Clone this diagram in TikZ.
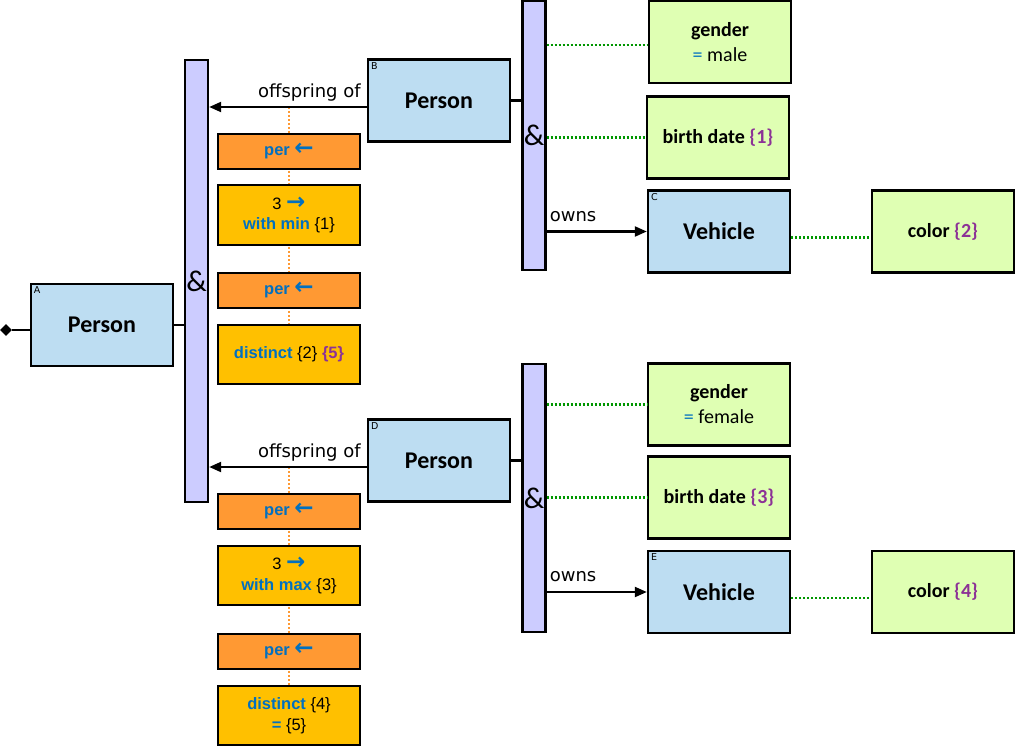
\documentclass[tikz,border=0pt]{standalone}
\usepackage{fontspec}
\setmainfont{Carlito}
\newfontfamily\relfont{DejaVu Sans}
\newfontfamily\opfont{Liberation Sans}
\usetikzlibrary{backgrounds,arrows.meta,shapes.geometric}
\definecolor{entityblue}{RGB}{189, 221, 242}
\definecolor{andlilac}{RGB}{204, 204, 255}
\definecolor{attrgreen}{RGB}{223, 255, 179}
\definecolor{perorange}{RGB}{255, 153, 51}
\definecolor{opyellow}{RGB}{255, 192, 0}
\definecolor{opblue}{RGB}{0, 112, 192}
\definecolor{refpurple}{RGB}{140, 50, 150}
\definecolor{linkgreen}{RGB}{0, 150, 0}
\tikzstyle{box} = [
  draw,
  line width=2.4pt,
  minimum width=142pt,
  inner sep=1pt,
  align=center,
]
\tikzstyle{entity} = [
  box,
  fill=entityblue,
  minimum height=82pt,
  font=\fontsize{24}{28}\selectfont\bfseries,
]
\tikzstyle{attr} = [
  box,
  fill=attrgreen,
  minimum height=82pt,
  font=\fontsize{20}{25}\selectfont,
]
\tikzstyle{perbox} = [
  box,
  fill=perorange,
  minimum height=35pt,
  text=opblue,
  font=\opfont\fontsize{16.5}{18}\selectfont\bfseries,
]
\tikzstyle{opbox} = [
  box,
  fill=opyellow,
  minimum height=60pt,
  font=\opfont\fontsize{16.5}{20.5}\selectfont,
]
\tikzstyle{andbar} = [
  draw,
  line width=2.4pt,
  fill=andlilac,
  minimum width=23pt,
  inner sep=0pt,
  font=\fontsize{30}{32}\selectfont,
]
\tikzstyle{tag} = [
  anchor=north west,
  inner sep=0pt,
  font=\relfont\fontsize{9.5}{10}\selectfont,
]
\tikzstyle{rel} = [
  line width=2.2pt,
  -{Triangle[length=12pt,width=10pt]},
]
\tikzstyle{rellabel} = [
  font=\relfont\fontsize{18}{20}\selectfont,
]
\tikzstyle{attrlink} = [
  linkgreen,
  line width=2.2pt,
  dash pattern=on 2pt off 2pt,
]
\tikzstyle{perlink} = [
  perorange,
  line width=2.2pt,
  dash pattern=on 2pt off 2pt,
]
\newcommand{\opkw}[1]{{\bfseries\color{opblue}#1}}
\newcommand{\refno}[1]{{\bfseries\color{refpurple}\{#1\}}}
\newcommand{\larr}{{\relfont\fontsize{23}{20}\selectfont\bfseries\color{opblue}←}}
\newcommand{\rarr}{{\relfont\fontsize{23}{20}\selectfont\bfseries\color{opblue}→}}

\begin{document}
\begin{tikzpicture}[x=1pt, y=-1pt]
            \useasboundingbox (0,0) rectangle (1015,746);

            % Entities
            \node[entity] (personA) at (102,325) {Person};
            \node[entity] (personB) at (439,100.5) {Person};
            \node[entity] (vehicleC) at (719,231.5) {Vehicle};
            \node[entity] (personD) at (439,460.5) {Person};
            \node[entity] (vehicleE) at (719,592) {Vehicle};

            \node[tag] at ([shift={(4,4)}]personA.north west) {A};
            \node[tag] at ([shift={(4,4)}]personB.north west) {B};
            \node[tag] at ([shift={(4,4)}]vehicleC.north west) {C};
            \node[tag] at ([shift={(4,4)}]personD.north west) {D};
            \node[tag] at ([shift={(4,4)}]vehicleE.north west) {E};

            % And bars
            \node[andbar, minimum height=442pt] (and1) at (196.5,281) {\&};
            \node[andbar, minimum height=269pt] (and2) at (534,135.5) {\&};
            \node[andbar, minimum height=268pt] (and3) at (534,498) {\&};

            % Attributes
            \node[attr] (genderB) at (720,42) {\textbf{gender}\\{\color{opblue}=} male};
            \node[attr] (birthB) at (718,137.5) {\textbf{birth date} \refno{1}};
            \node[attr] (colorC) at (943,231.5) {\textbf{color} \refno{2}};
            \node[attr] (genderD) at (719,404.5) {\textbf{gender}\\{\color{opblue}=} female};
            \node[attr] (birthD) at (719,497.5) {\textbf{birth date} \refno{3}};
            \node[attr] (colorE) at (943,592) {\textbf{color} \refno{4}};

            % Per and operator boxes
            \node[perbox] (perB1) at (289,151.5) {per \larr};
            \node[opbox] (minB) at (289,215) {3 \rarr\\\opkw{with min} \{1\}};
            \node[perbox] (perB2) at (289,290.5) {per \larr};
            \node[opbox, minimum height=59pt] (distB) at (289,354.5) {\opkw{distinct} \{2\} \refno{5}};
            \node[perbox] (perD1) at (289,511.5) {per \larr};
            \node[opbox, minimum height=59pt] (maxD) at (289,575.5) {3 \rarr\\\opkw{with max} \{3\}};
            \node[perbox] (perD2) at (289,651.5) {per \larr};
            \node[opbox, minimum height=59pt] (distD) at (289,715.5) {\opkw{distinct} \{4\}\\\opkw{=} \{5\}};

            % Root and links
            \node[diamond, fill, inner sep=0pt, minimum size=12pt] (root) at (6,330) {};
            \draw[line width=2.2pt] (root) -- (root -| personA.west);
            \draw[line width=2.2pt] (personA.east) -- (personA.east -| and1.west);
            \draw[line width=2.2pt] (personB.east) -- (personB.east -| and2.west);
            \draw[line width=2.2pt] (personD.east) -- (personD.east -| and3.west);

            % Offspring relations
            \coordinate (offB) at ([shift={(0,6.5)}]personB.west);
            \coordinate (offD) at ([shift={(0,6.5)}]personD.west);
            \draw[rel] (offB) -- (offB -| and1.east)
                node[pos=0, rellabel, anchor=south east, inner xsep=5pt, inner ysep=5pt] {offspring of};
            \draw[rel] (offD) -- (offD -| and1.east)
                node[pos=0, rellabel, anchor=south east, inner xsep=5pt, inner ysep=5pt] {offspring of};

            % Owns relations
            \draw[rel] (vehicleC.west -| and2.east) -- (vehicleC.west)
                node[pos=0, rellabel, anchor=south west, inner xsep=2pt, inner ysep=9pt] {owns};
            \draw[rel] (vehicleE.west -| and3.east) -- (vehicleE.west)
                node[pos=0, rellabel, anchor=south west, inner xsep=2pt, inner ysep=9pt] {owns};

            % Attribute links
            \draw[attrlink] ([shift={(0,3)}]genderB.west -| and2.east) -- ([shift={(0,3)}]genderB.west);
            \draw[attrlink] (birthB.west -| and2.east) -- (birthB.west);
            \draw[attrlink] ([shift={(0,6)}]vehicleC.east) -- ([shift={(0,6)}]vehicleC.east -| colorC.west);
            \draw[attrlink] (genderD.west -| and3.east) -- (genderD.west);
            \draw[attrlink] (birthD.west -| and3.east) -- (birthD.west);
            \draw[attrlink] ([shift={(0,6)}]vehicleE.east) -- ([shift={(0,6)}]vehicleE.east -| colorE.west);

            % Per chains behind the boxes
            \begin{scope}[on background layer]
                \draw[perlink] (perB1.north |- offB) -- (distB.north);
                \draw[perlink] (perD1.north |- offD) -- (distD.north);
            \end{scope}
          \end{tikzpicture}
\end{document}
